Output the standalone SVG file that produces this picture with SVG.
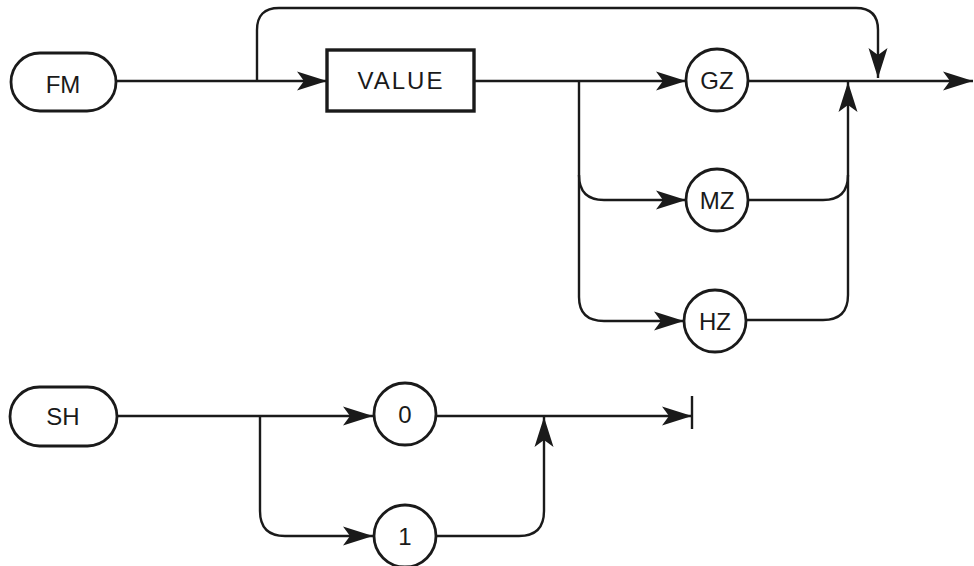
<svg xmlns="http://www.w3.org/2000/svg" width="974" height="566" viewBox="0 0 974 566">
<style>
.ln{fill:none;stroke:#1a1a1a;stroke-width:2.4;stroke-linejoin:round}
.nd{fill:#fff;stroke:#1a1a1a;stroke-width:2.8}
.box{fill:#fff;stroke:#1a1a1a;stroke-width:3.4}
.tx{font-family:"Liberation Sans",Arial,sans-serif;font-size:24px;fill:#1a1a1a;text-anchor:middle}
</style>
<defs>
<marker id="ar" viewBox="-31 -10 32 20" refX="0" refY="0" markerWidth="32" markerHeight="20" markerUnits="userSpaceOnUse" orient="auto">
<path d="M0,0 L-30,-9.5 L-23,0 L-30,9.5 Z" fill="#1a1a1a"/>
</marker>
</defs>
<rect width="974" height="566" fill="#fff"/>
<g id="connectors">
<path class="ln" d="M116,81 H327" marker-end="url(#ar)"/>
<path class="ln" d="M257,81 V30 Q257,8 279,8 H856 Q878,8 878,30 V78" marker-end="url(#ar)"/>
<path class="ln" d="M474,81 H686" marker-end="url(#ar)"/>
<path class="ln" d="M579,81 V175 Q579,200 604,200 H686" marker-end="url(#ar)"/>
<path class="ln" d="M579,175 V297 Q579,321 604,321 H684" marker-end="url(#ar)"/>
<path class="ln" d="M748,81 H973" marker-end="url(#ar)"/>
<path class="ln" d="M748,200 H823 Q848,200 848,175 V82" marker-end="url(#ar)"/>
<path class="ln" d="M746,320 H823 Q848,320 848,295 V175"/>
<path class="ln" d="M117,416 H373" marker-end="url(#ar)"/>
<path class="ln" d="M260,416 V511 Q260,536 285,536 H373" marker-end="url(#ar)"/>
<path class="ln" d="M436,416 H692" marker-end="url(#ar)"/>
<path class="ln" d="M692,396 V429"/>
<path class="ln" d="M436,536 H519 Q544,536 544,511 V417" marker-end="url(#ar)"/>
</g>
<g id="FM"><rect class="nd" x="11" y="53" width="105" height="58" rx="29"/><text class="tx" x="63" y="93">FM</text></g>
<g id="VALUE"><rect class="box" x="327" y="50" width="147" height="61"/><text class="tx" x="401" y="89" letter-spacing="2">VALUE</text></g>
<g id="GZ"><circle class="nd" cx="717" cy="80" r="31"/><text class="tx" x="717" y="89">GZ</text></g>
<g id="MZ"><circle class="nd" cx="717" cy="200" r="31"/><text class="tx" x="717" y="209">MZ</text></g>
<g id="HZ"><circle class="nd" cx="715" cy="321" r="31"/><text class="tx" x="715" y="330">HZ</text></g>
<g id="SH"><rect class="nd" x="10" y="387" width="107" height="59" rx="29.5"/><text class="tx" x="63" y="425">SH</text></g>
<g id="n0"><circle class="nd" cx="405" cy="414" r="31"/><text class="tx" x="405" y="423">0</text></g>
<g id="n1"><circle class="nd" cx="405" cy="536" r="31"/><text class="tx" x="405" y="545">1</text></g>
</svg>
